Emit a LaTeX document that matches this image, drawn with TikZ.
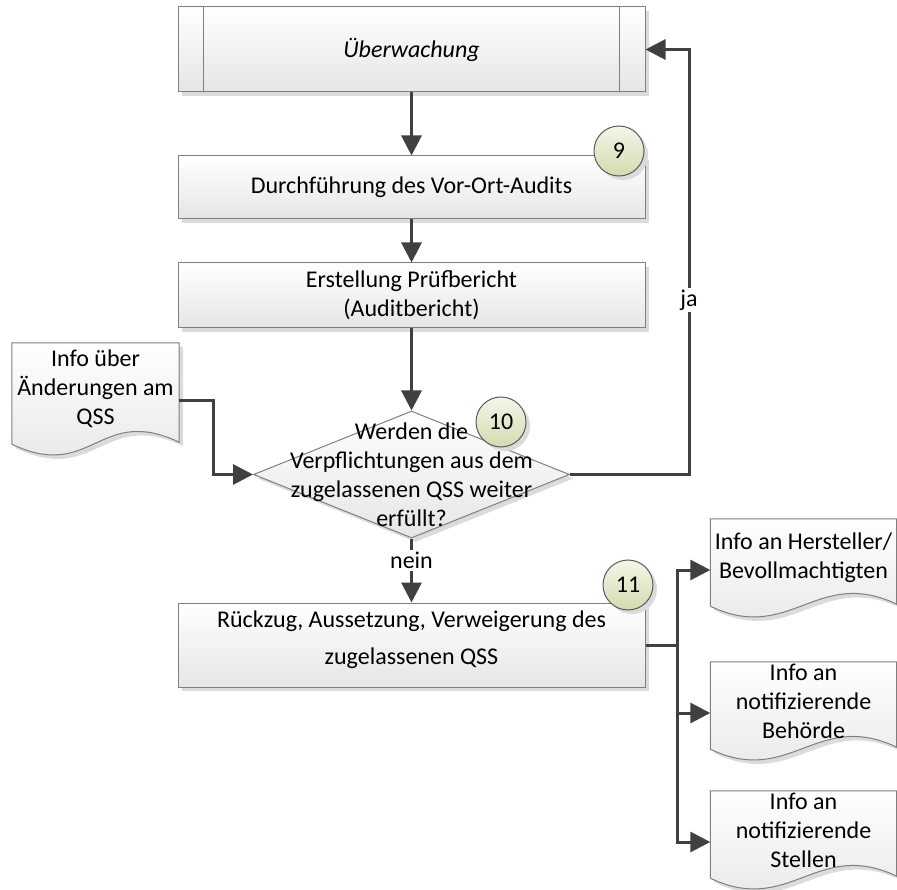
\documentclass[tikz,border=0pt]{standalone}
\usepackage{fontspec}
\setmainfont{Carlito}
\usepackage{xcolor}
\definecolor{pfeil}{HTML}{404040}
\definecolor{rahmen}{HTML}{7F7F7F}
\definecolor{kreisoben}{HTML}{F4F6E8}
\definecolor{kreisunten}{HTML}{D3DBB0}
\usetikzlibrary{positioning}
\usetikzlibrary{shapes.geometric}
\usetikzlibrary{arrows.meta}
\usetikzlibrary{shadows}

% outline of a document symbol around an (invisible) node
\newcommand{\dokument}[1]{%
	\path[dokform] (#1.north west) -- (#1.north east) -- ([yshift=17pt]#1.south east)
		.. controls +(-80pt,38pt) and +(80pt,-38pt) .. ([yshift=15pt]#1.south west) -- cycle;}

\begin{document}
\begin{tikzpicture}[x=1pt, y=1pt, font=\fontsize{24}{29}\selectfont,
		schatten/.style={drop shadow={shadow xshift=4pt, shadow yshift=-4pt, fill=black!14, opacity=1}},
		prozess/.style={rectangle, draw=rahmen, line width=1pt, top color=white, bottom color=black!10, schatten, minimum width=467pt, align=center, inner sep=0pt},
		entscheid/.style={diamond, draw=rahmen, line width=1pt, top color=white, bottom color=black!10, schatten, minimum width=316pt, minimum height=127pt, inner sep=0pt},
		dokform/.style={draw=rahmen, line width=1pt, top color=white, bottom color=black!10, schatten},
		dokbox/.style={rectangle, inner sep=0pt},
		nummer/.style={circle, draw=black!65, line width=1pt, top color=kreisoben, bottom color=kreisunten, schatten, minimum size=50pt, inner sep=0pt},
		beschrift/.style={fill=white, inner sep=2pt},
		linie/.style={draw=pfeil, line width=3pt},
		fluss/.style={linie, -{Triangle[length=20pt,width=20pt]}}]
	\useasboundingbox (0,0) rectangle (897,-890);

	%main column
	\node[prozess, minimum height=85pt] (ueberw) at (411.5,-49.5) {\itshape Überwachung};
	\foreach \seite/\dx in {west/26pt, east/-26pt}
		\draw[draw=rahmen, line width=1pt] ([xshift=\dx]ueberw.north \seite) -- ([xshift=\dx]ueberw.south \seite);
	\node[prozess, minimum height=63pt, below=63pt of ueberw] (audit) {Durchführung des Vor-Ort-Audits};
	\node[prozess, minimum height=65pt, below=43pt of audit] (bericht) {Erstellung Prüfbericht\\(Auditbericht)};
	\node[entscheid, below=82pt of bericht] (dec) {};
	\node[align=center] (dectext) at (dec) {Werden die\\Verpflichtungen aus dem\\zugelassenen QSS weiter\\erfüllt?};
	\node[prozess, minimum height=84pt, below=64pt of dec] (rueck) {};
	\node[align=center] (rueck-text) at ([yshift=5pt]rueck.center) {Rückzug, Aussetzung, Verweigerung des\\[8pt]zugelassenen QSS};

	%documents
	\node[dokbox, minimum width=167pt, minimum height=116pt] (aender) at (95.5,-401) {};
	\node[dokbox, minimum width=186pt, minimum height=102pt] (hst) at (803.5,-570) {};
	\node[dokbox, minimum width=186pt, minimum height=102pt] (beh) at (803.5,-713) {};
	\node[dokbox, minimum width=186pt, minimum height=102pt] (stel) at (803.5,-842) {};
	\foreach \d in {aender,hst,beh,stel}
		\dokument{\d};
	\node[align=center] (aender-text) at ([yshift=12pt]aender.center) {Info über\\Änderungen am\\QSS};
	\node[align=center] (hst-text) at ([yshift=12pt]hst.center) {Info an Hersteller/\\Bevollmachtigten};
	\node[align=center] (beh-text) at ([yshift=12pt]beh.center) {Info an\\notifizierende\\Behörde};
	\node[align=center] (stel-text) at ([yshift=12pt]stel.center) {Info an\\notifizierende\\Stellen};

	%arrows
	\draw[fluss] (ueberw.south) -- (audit.north);
	\draw[fluss] (audit.south) -- (bericht.north);
	\draw[fluss] (bericht.south) -- (dec.north);
	\draw[fluss] (dec.south) -- node[beschrift, pos=0.34] (nein) {nein} (rueck.north);

	\coordinate (aenderknick) at (213,-401);
	\draw[fluss] (aender.east) -- (aenderknick) |- (dec.west);

	\coordinate (jaspalte) at (689,-300);
	\draw[fluss] (dec.east) -| (jaspalte) |- (ueberw.east);
	\node[beschrift] (ja) at (jaspalte) {ja};

	\coordinate (verteil) at ([xshift=32pt]rueck.east);
	\draw[linie] (rueck.east) -- (verteil);
	\foreach \ziel in {hst,beh,stel}
		\draw[fluss] (verteil) |- (\ziel.west);

	%step numbers
	\node[nummer] (n9) at (619,-151) {9};
	\node[nummer] (n10) at (501,-422) {10};
	\node[nummer] (n11) at (628,-585) {11};
\end{tikzpicture}
\end{document}
